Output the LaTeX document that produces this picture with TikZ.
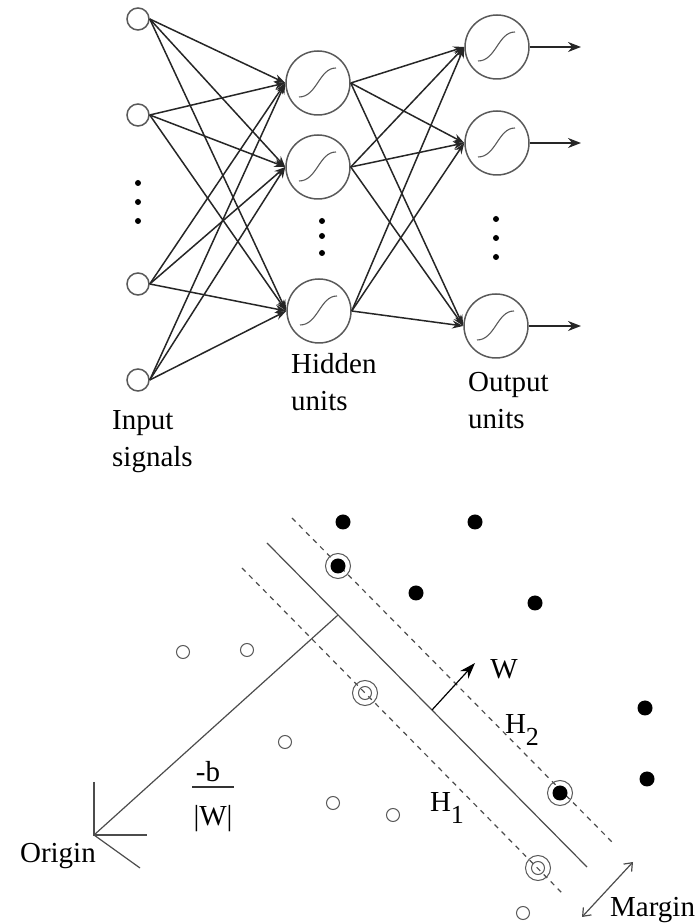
\documentclass[tikz,border=0pt]{standalone}
\usepackage{fontspec}
\setmainfont{Liberation Serif}
\usetikzlibrary{arrows.meta}

\newcommand{\hsub}[1]{H\raisebox{-12pt}{\fontsize{26}{26}\selectfont #1}}

\begin{document}
\begin{tikzpicture}[x=1pt,y=1pt,
    font=\fontsize{29}{37}\selectfont,
    neuron/.style={circle,draw=gray!70!black,line width=1.5pt,minimum size=64pt,inner sep=0pt,
      path picture={\draw[gray!70!black,line width=1.1pt,shift={(path picture bounding box.center)}]
        (-19,-14) .. controls (-1,-14) and (1,15) .. (18,15);}},
    inp/.style={circle,draw=gray!70!black,line width=1.5pt,minimum size=22pt,inner sep=0pt},
    vdot/.style={circle,fill=black,minimum size=6pt,inner sep=0pt},
    link/.style={-{Stealth[length=11pt,width=8pt]},line width=1.5pt,black!85},
    outlink/.style={-{Stealth[length=13pt,width=10pt]},line width=1.5pt,black!85},
    lbl/.style={anchor=north west,align=left,inner sep=0pt},
    plusdot/.style={circle,fill=black,minimum size=15pt,inner sep=0pt},
    minusdot/.style={circle,draw=gray!70!black,line width=1pt,minimum size=13pt,inner sep=0pt},
    svplus/.style={circle,draw=gray!70!black,line width=1pt,minimum size=25pt,inner sep=0pt,
      path picture={\fill[black] (path picture bounding box.center) circle[radius=7.5];}},
    svminus/.style={circle,draw=gray!70!black,line width=1pt,minimum size=25pt,inner sep=0pt,
      path picture={\draw[gray!70!black,line width=1pt] (path picture bounding box.center) circle[radius=6.5];}},
    hyper/.style={line width=1.2pt,gray!60!black},
    hdash/.style={hyper,dash pattern=on 5pt off 5pt}]
  \useasboundingbox (0,0) rectangle (698,924);

  % network
  \node[inp] (i1) at (138,905) {};
  \node[inp] (i2) at (138,809) {};
  \node[inp] (i3) at (138,640) {};
  \node[inp] (i4) at (138,544) {};
  \node[neuron] (h1) at (318,841) {};
  \node[neuron] (h2) at (318,757) {};
  \node[neuron] (h3) at (319,613) {};
  \node[neuron] (o1) at (497,877) {};
  \node[neuron] (o2) at (497,781) {};
  \node[neuron] (o3) at (496,598) {};
  \foreach \y [count=\k] in {741,722,703} \node[vdot] (di\k) at (138,\y) {};
  \foreach \y [count=\k] in {703,688,671} \node[vdot] (dh\k) at (322,\y) {};
  \foreach \y [count=\k] in {705,686,667} \node[vdot] (do\k) at (496,\y) {};
  \coordinate (y1) at (581,877);
  \coordinate (y2) at (581,781);
  \coordinate (y3) at (581,598);
  \path[link]
    (i1.east) edge (h1.west) edge (h2.west) edge (h3.west)
    (i2.east) edge (h1.west) edge (h2.west) edge (h3.west)
    (i3.east) edge (h1.west) edge (h2.west) edge (h3.west)
    (i4.east) edge (h1.west) edge (h2.west) edge (h3.west)
    (h1.east) edge (o1.west) edge (o2.west) edge (o3.west)
    (h2.east) edge (o1.west) edge (o2.west) edge (o3.west)
    (h3.east) edge (o1.west) edge (o2.west) edge (o3.west);
  \path[outlink]
    (o1.east) edge (y1)
    (o2.east) edge (y2)
    (o3.east) edge (y3);
  \node[lbl] (inlbl) at (112,514) {Input\\signals};
  \node[lbl] (hidlbl) at (291,571) {Hidden\\units};
  \node[lbl] (outlbl) at (468,552) {Output\\units};

  % separating hyperplane
  \coordinate (org) at (94,89);
  \coordinate (ax1) at (94,142);
  \coordinate (ax2) at (147,89);
  \coordinate (ax3) at (140,56);
  \draw[hyper] (ax1) -- (org) -- (ax2);
  \draw[hyper] (org) -- (ax3);
  \node[anchor=north east,inner sep=0pt] (orglbl) at (96,81) {Origin};
  \coordinate (hpa) at (267,381);
  \coordinate (hpb) at (587,57);
  \coordinate (foot) at (338,309);
  \draw[hyper] (hpa) -- (hpb);
  \draw[hyper] (org) -- (foot);
  \coordinate (upa) at (292,406);
  \coordinate (upb) at (612,82);
  \coordinate (loa) at (242,356);
  \coordinate (lob) at (562,31);
  \draw[hdash] (upa) -- (upb);
  \draw[hdash] (loa) -- (lob);
  \coordinate (wbase) at (432,214);
  \coordinate (wtip) at (475,261);
  \draw[hyper,black,-{Stealth[length=16pt,width=11pt]}] (wbase) -- (wtip);
  \node (wlbl) at (504,255) {W};
  \node (h2lbl) at (522,194) {\hsub{2}};
  \node (h1lbl) at (447,116) {\hsub{1}};
  % -b over |W|
  \node[anchor=base,inner sep=0pt] (numer) at (208,142) {-b};
  \node[anchor=base,inner sep=0pt] (denom) at (213,98) {|W|};
  \draw[line width=1.3pt,gray!40!black] (192,137) -- (234,137);
  \coordinate (ma) at (582,7);
  \coordinate (mb) at (633,62);
  \draw[hyper,{Straight Barb[length=7pt,width=11pt]}-{Straight Barb[length=7pt,width=11pt]}] (ma) -- (mb);
  \node[anchor=base west,inner sep=0pt] (marglbl) at (610,7) {Margin};

  % data points
  \node[plusdot] (p1) at (343,402) {};
  \node[plusdot] (p2) at (475,402) {};
  \node[plusdot] (p3) at (416,331) {};
  \node[plusdot] (p4) at (535,321) {};
  \node[plusdot] (p5) at (645,216) {};
  \node[plusdot] (p6) at (647,145) {};
  \node[svplus] (s1) at (338,358) {};
  \node[svplus] (s2) at (560,131) {};
  \node[svminus] (s3) at (365,231) {};
  \node[svminus] (s4) at (538,56) {};
  \node[minusdot] (n1) at (183,272) {};
  \node[minusdot] (n2) at (247,274) {};
  \node[minusdot] (n3) at (285,182) {};
  \node[minusdot] (n4) at (333,121) {};
  \node[minusdot] (n5) at (393,109) {};
  \node[minusdot] (n6) at (523,11) {};
\end{tikzpicture}
\end{document}
